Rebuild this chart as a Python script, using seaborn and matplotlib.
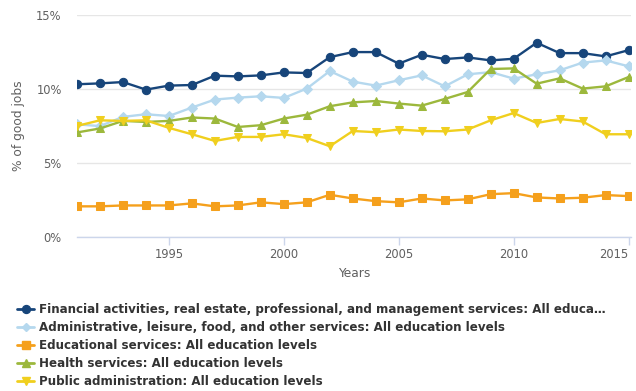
import matplotlib
matplotlib.use("Agg")
import matplotlib.pyplot as plt
import seaborn as sns
import pandas as pd
from matplotlib.lines import Line2D
from matplotlib.ticker import FuncFormatter

years = list(range(1991, 2016))

financial = [10.32, 10.38, 10.47, 9.96, 10.23, 10.27, 10.90, 10.85, 10.92, 11.12, 11.08,
             12.15, 12.49, 12.49, 11.71, 12.31, 12.02, 12.13, 11.93, 12.04, 13.12,
             12.42, 12.42, 12.20, 12.62]
administrative = [7.62, 7.50, 8.12, 8.30, 8.18, 8.75, 9.29, 9.42, 9.51, 9.40, 10.03,
                  11.21, 10.50, 10.23, 10.59, 10.92, 10.18, 10.99, 11.14, 10.70, 10.99,
                  11.26, 11.78, 11.93, 11.53]
educational = [2.09, 2.09, 2.15, 2.15, 2.15, 2.29, 2.09, 2.15, 2.36, 2.24, 2.36,
               2.87, 2.62, 2.44, 2.36, 2.62, 2.49, 2.56, 2.91, 2.98, 2.69,
               2.62, 2.67, 2.85, 2.78]
health = [7.07, 7.34, 7.85, 7.78, 7.85, 8.08, 8.01, 7.44, 7.56, 8.01, 8.27,
          8.84, 9.10, 9.19, 9.02, 8.88, 9.33, 9.80, 11.35, 11.39, 10.36,
          10.72, 10.03, 10.18, 10.81]
public_admin = [7.51, 7.89, 7.85, 7.89, 7.38, 6.95, 6.50, 6.77, 6.77, 6.95, 6.70,
                6.14, 7.17, 7.09, 7.27, 7.17, 7.15, 7.27, 7.89, 8.38, 7.71,
                7.98, 7.81, 6.95, 6.95]

series_names = [
    "Financial activities, real estate, professional, and management services: All educa\u2026",
    "Administrative, leisure, food, and other services: All education levels",
    "Educational services: All education levels",
    "Health services: All education levels",
    "Public administration: All education levels",
]
series_values = [financial, administrative, educational, health, public_admin]
colors = ["#17457a", "#b5d8ee", "#f5a01c", "#9cb83c", "#f0cf1e"]
markers = ["o", "D", "s", "^", "v"]
msizes = [6, 4.6, 5.4, 6, 6]

y_ticks = [0, 5, 10, 15]
x_ticks = [1995, 2000, 2005, 2010, 2015]

rows = []
for name, vals in zip(series_names, series_values):
    for y, v in zip(years, vals):
        rows.append({"Year": y, "Value": v, "Series": name})
df = pd.DataFrame(rows)

sns.set_theme(style="white")
plt.rcParams["font.family"] = ["DejaVu Sans"]

fig = plt.figure(figsize=(6.36, 3.91), dpi=100)
ax = fig.add_axes([0.121, 0.393, 0.871, 0.569])

for name, c, m, ms in zip(series_names, colors, markers, msizes):
    sub = df[df["Series"] == name]
    sns.lineplot(data=sub, x="Year", y="Value", ax=ax, color=c, marker=m,
                 markersize=ms, markeredgecolor=c, linewidth=1.7, legend=False)

ax.set_xlim(1991, 2015.1)
ax.set_ylim(0, 15)
ax.set_yticks(y_ticks)
ax.yaxis.set_major_formatter(FuncFormatter(lambda v, p: f"{v:.0f}%"))
ax.set_xticks(x_ticks)
ax.grid(axis="y", color="#e6e6e6", linewidth=1)
ax.grid(axis="x", visible=False)
for s in ["top", "right", "left"]:
    ax.spines[s].set_visible(False)
ax.spines["bottom"].set_color("#ccd6eb")
ax.spines["bottom"].set_linewidth(1)
ax.tick_params(axis="x", bottom=True, length=6, width=1, color="#ccd6eb",
               labelsize=8.3, labelcolor="#606060", pad=2)
ax.tick_params(axis="y", left=True, length=0, labelsize=8.3, labelcolor="#606060", pad=11)
labels = ax.get_xticklabels()
labels[-1].set_horizontalalignment("right")
ax.set_xlabel("Years", fontsize=8.8, color="#606060", labelpad=4)
ax.set_ylabel("% of good jobs", fontsize=8.8, color="#606060")
ax.yaxis.set_label_coords(-0.094, 0.5)

handles = [Line2D([0], [0], color=c, marker=m, markersize=ms * 0.95, linewidth=2,
                  markeredgecolor=c) for c, m, ms in zip(colors, markers, msizes)]
leg = fig.legend(handles, series_names, loc="upper left",
                 bbox_to_anchor=(0.027, 0.225), frameon=False,
                 handlelength=1.4, handletextpad=0.4, labelspacing=0.42,
                 borderaxespad=0, borderpad=0,
                 prop={"size": 8.6, "weight": "bold"})
for t in leg.get_texts():
    t.set_color("#333333")

fig.savefig("out.png", dpi=100)
